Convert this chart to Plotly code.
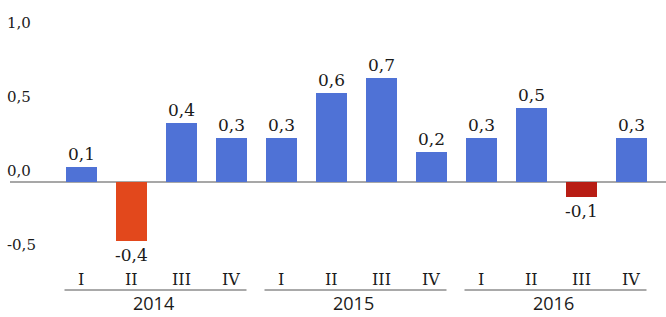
import plotly.graph_objects as go

# ---- data ----
years = ["2014", "2015", "2016"]
quarters = ["I", "II", "III", "IV"]
values = [0.1, -0.4, 0.4, 0.3, 0.3, 0.6, 0.7, 0.2, 0.3, 0.5, -0.1, 0.3]
value_labels = ["0,1", "-0,4", "0,4", "0,3", "0,3", "0,6", "0,7", "0,2", "0,3", "0,5", "-0,1", "0,3"]
bar_colors = ["#4f72d6", "#e2481c", "#4f72d6", "#4f72d6", "#4f72d6", "#4f72d6",
              "#4f72d6", "#4f72d6", "#4f72d6", "#4f72d6", "#b81d14", "#4f72d6"]
ytick_vals = [1.0, 0.5, 0.0, -0.5]
ytick_text = ["1,0", "0,5", "0,0", "-0,5"]

n = len(values)
xs = list(range(n))
BW = 0.62

SERIF = "DejaVu Serif"
SANS = "Open Sans"
TXT = "#1a1a1a"

fig = go.Figure()
fig.add_trace(go.Bar(
    x=xs, y=values, width=BW,
    marker=dict(color=bar_colors, line=dict(width=0)),
    hoverinfo="skip", showlegend=False,
))

ann = []
# value labels
for x, v, t in zip(xs, values, value_labels):
    ann.append(dict(x=x, y=v, xref="x", yref="y", text=t, showarrow=False,
                    yanchor="middle", yshift=13 if v >= 0 else -14,
                    font=dict(family=SERIF, size=17, color=TXT)))
# y tick labels (drawn above their value line)
for v, t in zip(ytick_vals, ytick_text):
    ann.append(dict(x=5 / 666, y=v, xref="paper", yref="y", text=t, showarrow=False,
                    xanchor="left", yanchor="middle", yshift=11,
                    font=dict(family=SERIF, size=15, color=TXT)))
# quarter labels
for i in range(n):
    ann.append(dict(x=i, y=1 - 279 / 317, xref="x", yref="paper", text=quarters[i % 4],
                    showarrow=False, yanchor="middle",
                    font=dict(family=SERIF, size=16, color=TXT)))
# year labels and underlines
shapes = []
for g, yr in enumerate(years):
    first, last = 4 * g, 4 * g + 3
    ann.append(dict(x=(first + last) / 2 - 0.05, y=1 - 303 / 317, xref="x", yref="paper",
                    text=yr, showarrow=False, yanchor="middle",
                    font=dict(family=SANS, size=18, color=TXT)))
    shapes.append(dict(type="line", xref="x", yref="paper",
                       x0=first - BW / 2 - 0.02, x1=last + BW / 2,
                       y0=1 - 290 / 317, y1=1 - 290 / 317,
                       line=dict(color="#555555", width=1)))
# zero line
shapes.append(dict(type="line", xref="paper", yref="y", x0=10 / 666, x1=1, y0=0, y1=0,
                   line=dict(color="#8a8a8a", width=1.5), layer="below"))

fig.update_layout(
    width=666, height=317,
    margin=dict(l=0, r=0, t=0, b=0),
    paper_bgcolor="white", plot_bgcolor="white",
    bargap=0,
    xaxis=dict(range=[-81 / 50, (666 - 81) / 50], visible=False, fixedrange=True),
    yaxis=dict(range=[-(317 - 182) / 148, 182 / 148], visible=False, fixedrange=True),
    annotations=ann, shapes=shapes,
)

fig.write_html("out.html", config={"displayModeBar": False},
               post_script="document.body.style.margin='0';document.body.style.overflow='hidden';")
